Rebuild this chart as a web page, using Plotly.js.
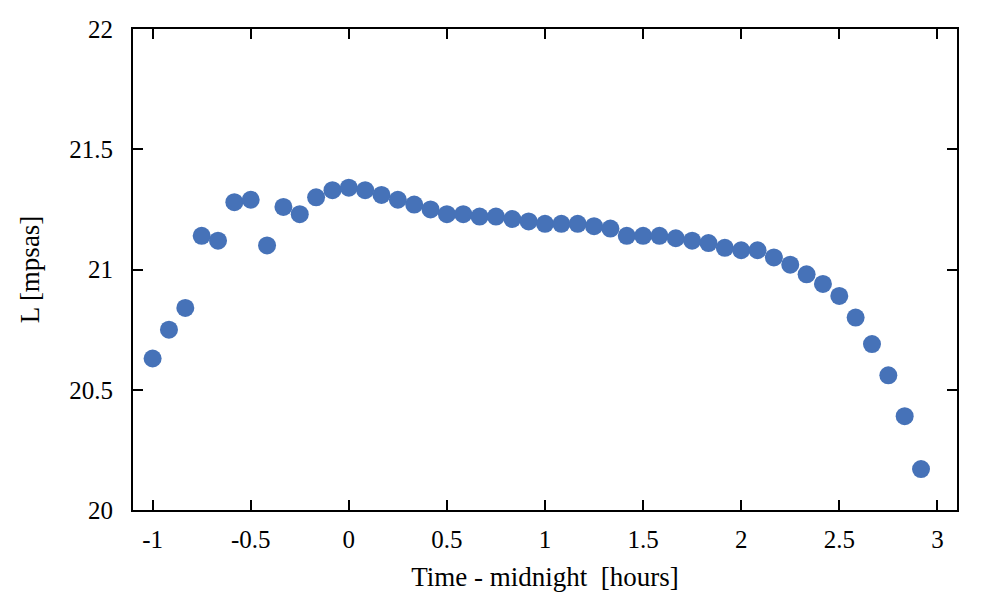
<!DOCTYPE html>
<html><head><meta charset="utf-8">
<script src="https://cdn.plot.ly/plotly-3.0.1.min.js"></script>
<style>html,body{margin:0;padding:0;background:#fff}#c{width:1000px;height:600px}</style>
</head><body><div id="c"></div>
<script>
var hours = [-12,-11,-10,-9,-8,-7,-6,-5,-4,-3,-2,-1,0,1,2,3,4,5,6,7,8,9,10,11,12,13,14,15,16,17,18,19,20,21,22,23,24,25,26,27,28,29,30,31,32,33,34,35];
var timeMinusMidnight = hours.map(function(k){return k/12;});
var brightness = [20.63,20.75,20.84,21.14,21.12,21.28,21.29,21.10,21.26,21.23,21.30,21.33,
  21.34,21.33,21.31,21.29,21.27,21.25,21.23,21.23,21.22,21.22,21.21,21.20,
  21.19,21.19,21.19,21.18,21.17,21.14,21.14,21.14,21.13,21.12,21.11,21.09,
  21.08,21.08,21.05,21.02,20.98,20.94,20.89,20.80,20.69,20.56,20.39,20.17];
var xTicks = [-1,-0.5,0,0.5,1,1.5,2,2.5,3];
var xTickText = ['-1','-0.5','0','0.5','1','1.5','2','2.5','3'];
var yTicks = [20,20.5,21,21.5,22];
var yTickText = ['20','20.5','21','21.5','22'];

var fontFam = 'Liberation Serif';
var fs = 25, tfs = 27;
var trace = {
  x: timeMinusMidnight, y: brightness, type: 'scatter', mode: 'markers',
  marker: {color: '#4672b8', size: 18, line: {width: 0}},
  hoverinfo: 'skip'
};
var axisCommon = {
  showline: true, linecolor: '#000', linewidth: 2, mirror: 'ticks',
  ticks: 'inside', ticklen: 10, tickwidth: 2, tickcolor: '#000',
  showgrid: false, zeroline: false,
  tickfont: {family: fontFam, size: fs, color: '#000'}
};
var layout = {
  width: 1000, height: 600,
  margin: {l: 133, r: 43, t: 29, b: 90},
  paper_bgcolor: '#fff', plot_bgcolor: '#fff',
  showlegend: false,
  font: {family: fontFam, color: '#000'},
  xaxis: Object.assign({}, axisCommon, {
    range: [-1.1, 3.1], tickmode: 'array', tickvals: xTicks, ticktext: xTickText,
    ticklabelstandoff: 6,
    title: {text: 'Time - midnight&nbsp;&nbsp;[hours]', font: {family: fontFam, size: tfs, color: '#000'}, standoff: 15}
  }),
  yaxis: Object.assign({}, axisCommon, {
    range: [20, 22], tickmode: 'array', tickvals: yTicks, ticktext: yTickText,
    ticklabelstandoff: 13,
    title: {text: 'L [mpsas]', font: {family: fontFam, size: tfs, color: '#000'}, standoff: 22}
  })
};
Plotly.newPlot('c', [trace], layout, {staticPlot: true, displayModeBar: false});
</script></body></html>
